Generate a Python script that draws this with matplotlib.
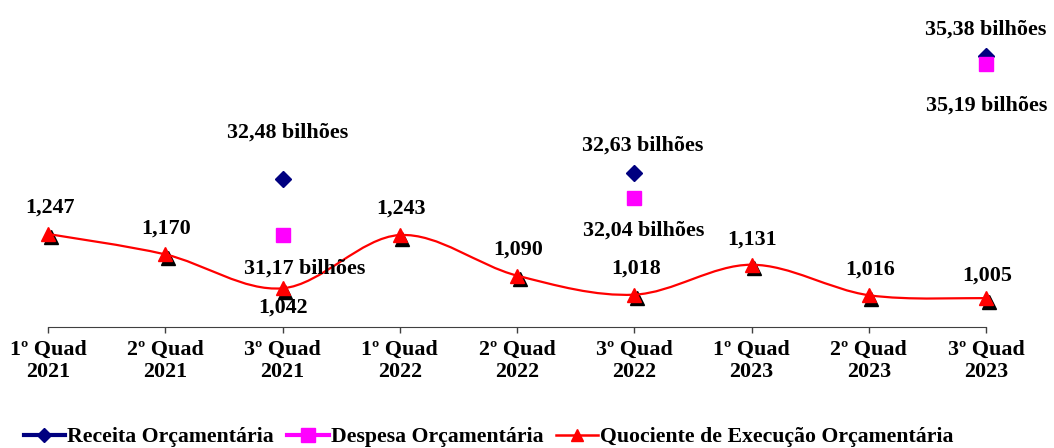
import numpy as np
import matplotlib
matplotlib.use("Agg")
import matplotlib.pyplot as plt
from matplotlib.path import Path
from matplotlib.patches import PathPatch
from matplotlib.lines import Line2D
from matplotlib.transforms import ScaledTranslation

PERIODS = ["1º Quad\n2021", "2º Quad\n2021", "3º Quad\n2021",
           "1º Quad\n2022", "2º Quad\n2022", "3º Quad\n2022",
           "1º Quad\n2023", "2º Quad\n2023", "3º Quad\n2023"]
QUOCIENTE = [1.247, 1.170, 1.042, 1.243, 1.090, 1.018, 1.131, 1.016, 1.005]
RECEITA = [np.nan, np.nan, 32.48, np.nan, np.nan, 32.63, np.nan, np.nan, 35.38]
DESPESA = [np.nan, np.nan, 31.17, np.nan, np.nan, 32.04, np.nan, np.nan, 35.19]

# label offsets in pixels (dx, dy)
Q_OFF = [(2, 26), (1, 26), (1, -19), (1, 26), (1, 26), (2, 26), (1, 25), (1, 26), (1, 23)]
R_OFF = {2: (5, 46), 5: (8, 27), 8: (0, 26)}
D_OFF = {2: (22, -34), 5: (9, -33), 8: (1, -42)}

NAVY = "#000080"
MAGENTA = "#FF00FF"
RED = "#FF0000"

plt.rcParams["font.family"] = ["Liberation Serif", "DejaVu Serif"]
plt.rcParams["font.weight"] = "bold"
FS = 15.8


def br(v, nd):
    return f"{v:.{nd}f}".replace(".", ",")


def smooth_path(xs, ys):
    # Catmull-Rom style bezier, like a spreadsheet "smoothed line"
    pts = np.column_stack([xs, ys]).astype(float)
    n = len(pts)
    verts = [pts[0]]
    codes = [Path.MOVETO]
    for i in range(n - 1):
        p0 = pts[i - 1] if i > 0 else pts[i]
        p1, p2 = pts[i], pts[i + 1]
        p3 = pts[i + 2] if i + 2 < n else pts[i + 1]
        verts += [p1 + (p2 - p0) / 6, p2 - (p3 - p1) / 6, p2]
        codes += [Path.CURVE4] * 3
    return Path(verts, codes)


fig = plt.figure(figsize=(10.54, 4.48), dpi=100)
ax = fig.add_axes([48 / 1054, 1 - 327 / 448, (986 - 48) / 1054, 327 / 448])
ax2 = ax.twinx()

x = np.arange(len(PERIODS))
px = 0.72  # points per pixel at 100 dpi

ax.set_xlim(0, len(PERIODS) - 1)
ax.set_ylim(0.896, 2.130)
ax2.set_ylim(28.99, 36.70)

# quotient: smoothed red line, black shadow triangles, red triangles
ax.add_patch(PathPatch(smooth_path(x, QUOCIENTE), facecolor="none",
                       edgecolor=RED, lw=1.6, zorder=3))
shadow = ax.transData + ScaledTranslation(2.5 / 100, -3.5 / 100, fig.dpi_scale_trans)
ax.plot(x, QUOCIENTE, ls="none", marker="^", ms=10, color="black",
        transform=shadow, zorder=2, clip_on=False)
ax.plot(x, QUOCIENTE, ls="none", marker="^", ms=10, color=RED,
        zorder=4, clip_on=False)
for i, v in enumerate(QUOCIENTE):
    dx, dy = Q_OFF[i]
    ax.annotate(br(v, 3), (x[i], v), xytext=(dx * px, dy * px),
                textcoords="offset points", ha="center", va="center",
                fontsize=FS, fontweight="bold", annotation_clip=False)

ax2.plot(x, RECEITA, ls="none", marker="D", ms=8, color=NAVY, zorder=3, clip_on=False)
ax2.plot(x, DESPESA, ls="none", marker="s", ms=10, color=MAGENTA, zorder=4, clip_on=False)
for i, v in enumerate(RECEITA):
    if np.isnan(v):
        continue
    dx, dy = R_OFF[i]
    ax2.annotate(br(v, 2) + " bilhões", (x[i], v), xytext=(dx * px, dy * px),
                 textcoords="offset points", ha="center", va="center",
                 fontsize=FS, fontweight="bold", annotation_clip=False)
for i, v in enumerate(DESPESA):
    if np.isnan(v):
        continue
    dx, dy = D_OFF[i]
    ax2.annotate(br(v, 2) + " bilhões", (x[i], v), xytext=(dx * px, dy * px),
                 textcoords="offset points", ha="center", va="center",
                 fontsize=FS, fontweight="bold", annotation_clip=False)

for a in (ax, ax2):
    for s in ("top", "right", "left"):
        a.spines[s].set_visible(False)
    a.set_yticks([])
ax2.spines["bottom"].set_visible(False)
ax.spines["bottom"].set_color("#404040")
ax.set_xticks(x)
ax.set_xticklabels(PERIODS, fontsize=FS, fontweight="bold", linespacing=1.15)
ax.tick_params(axis="x", direction="out", length=4.5, width=1, color="#404040", pad=5)
ax.patch.set_visible(False)

handles = [
    Line2D([], [], color=NAVY, marker="D", ms=7, lw=3),
    Line2D([], [], color=MAGENTA, marker="s", ms=10, lw=3),
    Line2D([], [], color=RED, marker="^", ms=8, lw=1.8),
]
labels = ["Receita Orçamentária", "Despesa Orçamentária",
          "Quociente de Execução Orçamentária"]
fig.legend(handles, labels, loc="center left", bbox_to_anchor=(4 / 1054, 1 - 437 / 448),
           ncol=3, frameon=False, handlelength=1.9, handletextpad=0.1,
           columnspacing=0.6, prop={"family": "Liberation Serif", "weight": "bold", "size": 15.7})

fig.savefig("out.png", dpi=100)
